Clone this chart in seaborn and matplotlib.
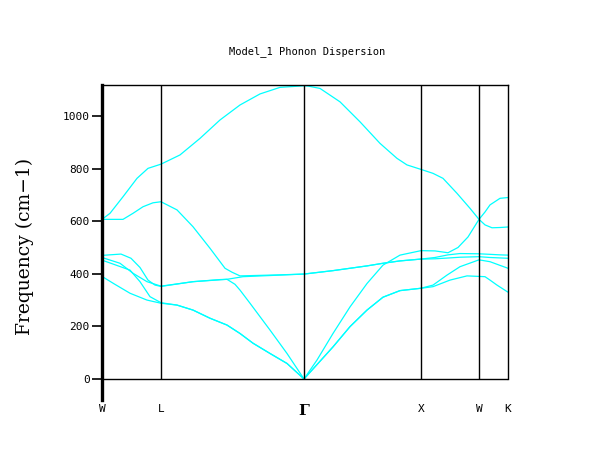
import matplotlib
matplotlib.use("Agg")
import matplotlib.pyplot as plt
import seaborn as sns
import pandas as pd

# High-symmetry points along the k-path (path distance, arbitrary units)
k_nodes = [0, 59, 202, 319, 377, 406]
k_labels = ["W", "L", "Γ", "X", "W", "K"]

# Phonon branches: (k, frequency in cm-1)
band1_k = [0, 12, 28, 45, 59, 75, 91, 108, 125, 138, 151, 168, 185, 202,
           231, 248, 265, 281, 298, 319, 331, 348, 365, 377, 383, 388, 395, 406]
band1_f = [390, 362, 326, 300, 288, 281, 262, 231, 205, 173, 136, 97, 59, 0,
           122, 199, 262, 311, 336, 345, 351, 376, 392, 390, 389, 376, 357, 330]

band2_k = [0, 28, 38, 48, 59, 75, 91, 108, 125, 138, 151, 168, 185, 202,
           231, 248, 265, 281, 298, 319, 331, 345, 358, 377, 388, 398, 406]
band2_f = [452, 414, 370, 313, 290, 281, 262, 231, 205, 173, 136, 97, 59, 0,
           122, 199, 262, 311, 336, 345, 357, 395, 427, 453, 446, 432, 421]

band3_k = [0, 18, 31, 45, 59, 91, 125, 141, 178, 202,
           231, 265, 281, 298, 319, 333, 346, 358, 377, 388, 406]
band3_f = [462, 440, 402, 370, 353, 370, 379, 389, 395, 399,
           412, 430, 440, 449, 456, 457, 460, 463, 465, 462, 459]

band4_k = [0, 19, 29, 38, 46, 53, 59, 91, 118, 125, 133, 138, 148, 168, 185, 202,
           215, 231, 248, 265, 281, 298, 319, 333, 346, 356, 366, 377, 383, 388, 398, 406]
band4_f = [470, 475, 459, 424, 376, 357, 352, 370, 378, 379, 360, 338, 288, 186, 97, 0,
           72, 173, 274, 363, 433, 471, 488, 487, 480, 500, 540, 607, 635, 662, 687, 690]

band5_k = [0, 21, 31, 41, 51, 59, 75, 91, 108, 123, 130, 138, 158, 178, 202,
           231, 265, 281, 298, 319, 333, 346, 358, 377, 388, 398, 406]
band5_f = [607, 607, 630, 655, 670, 674, 643, 579, 497, 421, 406, 392, 394, 396, 399,
           412, 430, 440, 449, 456, 462, 472, 477, 476, 474, 472, 471]

band6_k = [0, 8, 21, 35, 46, 59, 78, 98, 118, 138, 158, 178, 202,
           206, 218, 238, 258, 278, 295, 305, 319, 331, 341, 355, 368, 377, 383, 390, 398, 406]
band6_f = [607, 630, 693, 763, 801, 817, 852, 915, 985, 1042, 1084, 1109, 1115,
           1114, 1105, 1054, 978, 896, 839, 814, 797, 782, 763, 706, 649, 607, 586, 575, 576, 578]

bands = {
    "b1": (band1_k, band1_f),
    "b2": (band2_k, band2_f),
    "b3": (band3_k, band3_f),
    "b4": (band4_k, band4_f),
    "b5": (band5_k, band5_f),
    "b6": (band6_k, band6_f),
}
rows = []
for name, (ks, fs) in bands.items():
    for i, (k, f) in enumerate(zip(ks, fs)):
        rows.append({"band": name, "k": k, "freq": f, "order": i})
df = pd.DataFrame(rows)

sns.set_theme(style="white")
plt.rcParams["font.family"] = ["DejaVu Sans Mono", "DejaVu Sans"]

W, H = 614, 458
fig = plt.figure(figsize=(W / 100, H / 100), dpi=100, facecolor="white")
ax = fig.add_axes([102 / W, 58 / H, 406 / W, 315 / H])
ax.set_facecolor("white")

sns.lineplot(data=df, x="k", y="freq", units="band", estimator=None, sort=False,
             color="#00ffff", linewidth=0.9, ax=ax, legend=False)

ymax = 1118
ax.set_xlim(k_nodes[0], k_nodes[-1])
ax.set_ylim(-80, ymax)

# frame
for s in ["top", "right"]:
    ax.spines[s].set_color("black")
    ax.spines[s].set_linewidth(1.0)
ax.spines["right"].set_bounds(0, ymax)
ax.spines["bottom"].set_visible(False)
ax.spines["left"].set_color("black")
ax.spines["left"].set_linewidth(2.4)
ax.axhline(0, color="black", linewidth=1.0, zorder=3)
ax.vlines(k_nodes[1:-1], 0, ymax, color="black", linewidth=1.0, zorder=3)

ax.set_yticks([0, 200, 400, 600, 800, 1000])
ax.tick_params(axis="y", direction="out", length=7, width=1.2, pad=2,
               labelsize=8, colors="black", left=True)
ax.set_xticks(k_nodes)
ax.set_xticklabels(k_labels)
ax.tick_params(axis="x", length=0, pad=3, labelsize=8, colors="black")
gl = ax.get_xticklabels()[2]
gl.set_fontfamily("DejaVu Serif")
gl.set_fontweight("bold")
gl.set_fontsize(11)
ax.set_xlabel("")
ax.set_ylabel("")
ax.grid(False)

fig.text(307 / W, 1 - 52 / H, "Model_1 Phonon Dispersion", ha="center", va="center",
         family="DejaVu Sans Mono", size=7.5, color="black")
fig.text(25 / W, 1 - 246 / H, "Frequency (cm\u22121)", rotation=90, ha="center",
         va="center", family="DejaVu Serif", size=13.5, color="black")

fig.savefig("out.png", dpi=100, facecolor="white")
